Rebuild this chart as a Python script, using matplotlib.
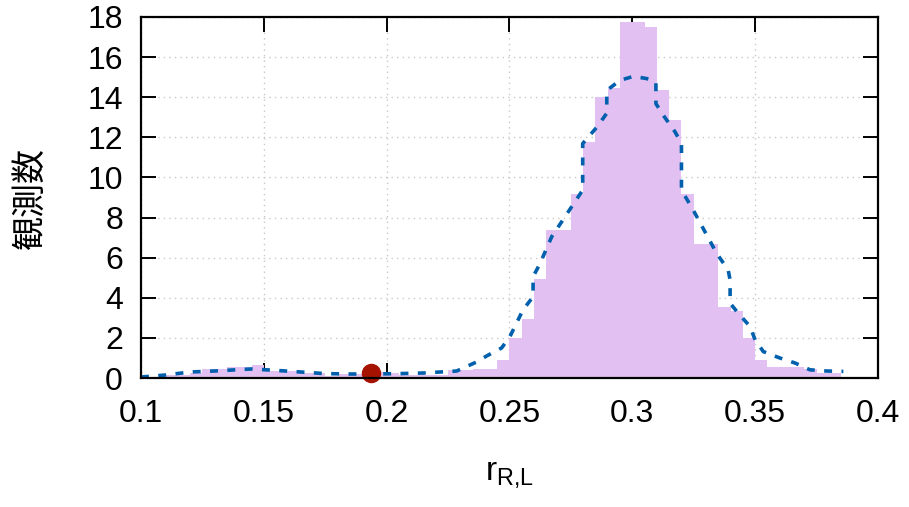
import numpy as np
import matplotlib
matplotlib.use("Agg")
import matplotlib.pyplot as plt

plt.rcParams['font.family'] = ['Liberation Sans', 'Noto Sans CJK JP', 'DejaVu Sans']
plt.rcParams['mathtext.fontset'] = 'custom'
plt.rcParams['mathtext.rm'] = 'Liberation Sans'
plt.rcParams['mathtext.it'] = 'Liberation Sans'

# histogram: bins of width 0.005 starting at 0.1
bin_start = 0.1
bin_width = 0.005
counts = [0.05, 0.07, 0.15, 0.15, 0.25, 0.45, 0.45, 0.55, 0.55, 0.67,
          0.37, 0.37, 0.37, 0.25, 0.25, 0.10, 0.20, 0.20, 0.30, 0.30,
          0.25, 0.15, 0.15, 0.15, 0.15, 0.40, 0.40, 0.45, 0.45, 0.91,
          2.00, 2.95, 4.96, 7.38, 7.38, 9.17, 11.76, 14.00, 14.44, 17.73,
          17.73, 17.48, 14.34, 12.85, 9.16, 6.70, 6.70, 3.55, 3.35, 2.00,
          0.91, 0.53, 0.53, 0.53, 0.46, 0.25, 0.25]

# smoothed curve (dashed)
curve_x = [0.100, 0.110, 0.120, 0.130, 0.140, 0.145, 0.155, 0.165, 0.175, 0.185,
           0.195, 0.205, 0.215, 0.2285, 0.2366, 0.2407, 0.2468, 0.2502, 0.2555, 0.2596,
           0.2596, 0.2624, 0.2672, 0.2726, 0.2798, 0.2798, 0.2855, 0.2896, 0.2896, 0.2950,
           0.3004, 0.3058, 0.3096, 0.3096, 0.3126, 0.3174, 0.3200, 0.3200, 0.3248, 0.3343,
           0.3390, 0.3398, 0.3398, 0.3431, 0.3479, 0.3500, 0.3533, 0.3600, 0.3662, 0.3723,
           0.3790, 0.3859]
curve_y = [0.05, 0.15, 0.30, 0.35, 0.42, 0.45, 0.38, 0.30, 0.22, 0.20,
           0.20, 0.22, 0.25, 0.35, 0.80, 1.10, 1.50, 2.07, 3.40, 4.05,
           5.05, 5.70, 7.05, 8.04, 9.37, 11.69, 12.50, 13.20, 14.34, 14.84,
           15.04, 14.93, 14.76, 13.68, 13.10, 12.27, 11.69, 9.37, 8.37, 6.22,
           5.39, 4.89, 3.73, 3.23, 2.57, 1.90, 1.32, 1.00, 0.75, 0.41,
           0.35, 0.33]

# observed value
obs_x = [0.1935]
obs_y = [0.25]

xticks = [0.1, 0.15, 0.2, 0.25, 0.3, 0.35, 0.4]
xtick_labels = ['0.1', '0.15', '0.2', '0.25', '0.3', '0.35', '0.4']
yticks = [0, 2, 4, 6, 8, 10, 12, 14, 16, 18]

fig = plt.figure(figsize=(9.09, 5.07), dpi=100)
ax = fig.add_axes([0.1551, 0.2544, 0.8108, 0.7121])

edges = bin_start + bin_width * np.arange(len(counts) + 1)
ax.stairs(counts, edges, fill=True, color='#e2c0f2', zorder=2)
ax.plot(curve_x, curve_y, color='#0060ad', lw=2.6, ls=(0, (2.2, 2.6)), zorder=3)
ax.plot(obs_x, obs_y, 'o', color='#a51200', ms=13, zorder=4, clip_on=False)

ax.set_xlim(0.1, 0.4)
ax.set_ylim(0, 18)
ax.set_xticks(xticks)
ax.set_xticklabels(xtick_labels)
ax.set_yticks(yticks)
ax.set_axisbelow(True)
ax.grid(True, color='#c8c8c8', ls=(0, (1, 3)), lw=1)
ax.tick_params(direction='in', length=10.5, width=1.4, top=True, right=True,
               labelsize=23, colors='black')
ax.tick_params(axis='x', pad=15)
ax.tick_params(axis='y', pad=13)
for sp in ax.spines.values():
    sp.set_linewidth(1.6)
    sp.set_zorder(5)

ax.set_ylabel('観測数', fontsize=24.5, family=['Noto Sans CJK JP'])
ax.yaxis.set_label_coords(-0.127, 0.5)
ax.set_xlabel(r'$\mathregular{r_{R{,}L}}$', fontsize=24)
ax.xaxis.set_label_coords(0.5, -0.225)

fig.savefig('out.png', dpi=100)
